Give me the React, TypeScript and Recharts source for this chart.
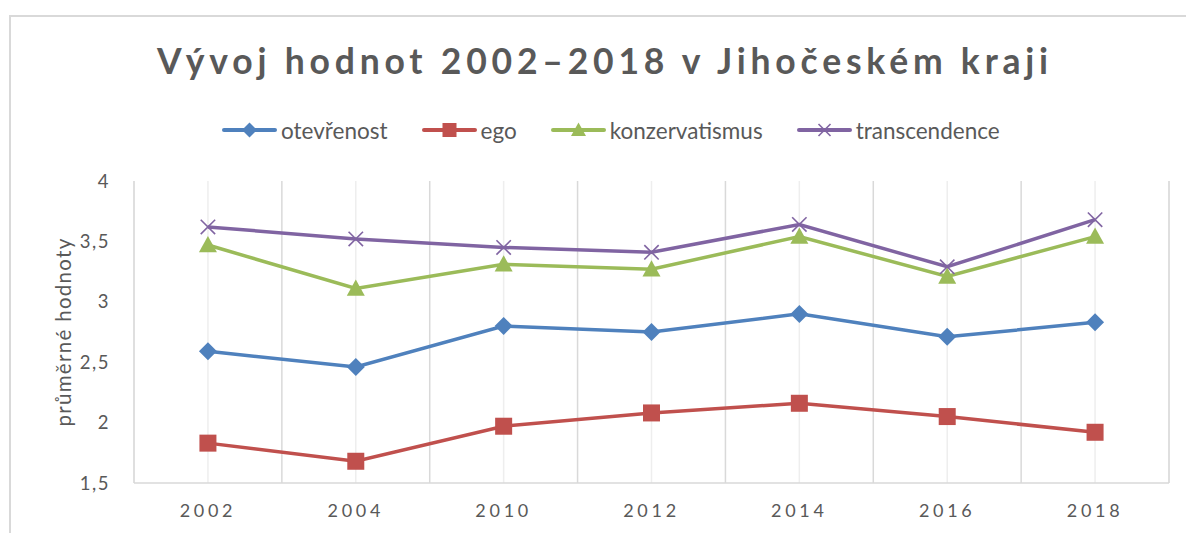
import React from "react";
import {
  CartesianGrid,
  Label,
  Legend,
  Line,
  LineChart,
  ReferenceLine,
  XAxis,
  YAxis,
} from "recharts";

const years = ["2002", "2004", "2010", "2012", "2014", "2016", "2018"];
const otevrenost = [2.59, 2.46, 2.8, 2.75, 2.9, 2.71, 2.83];
const ego = [1.83, 1.68, 1.97, 2.08, 2.16, 2.05, 1.92];
const konzervatismus = [3.47, 3.11, 3.31, 3.27, 3.54, 3.21, 3.54];
const transcendence = [3.62, 3.52, 3.45, 3.41, 3.64, 3.29, 3.68];
const yTicks = [1.5, 2, 2.5, 3, 3.5, 4];

const FONT = "Lato, 'Open Sans', sans-serif";
const INK = "#595959";

const data = years.map((year, i) => ({
  x: i + 0.5,
  year,
  otevrenost: otevrenost[i],
  ego: ego[i],
  konzervatismus: konzervatismus[i],
  transcendence: transcendence[i],
}));

const centers = years.map((_, i) => i + 0.5);
const bounds = [...years.map((_, i) => i), years.length];

type Kind = "diamond" | "square" | "triangle" | "cross";

const series: { key: string; name: string; color: string; kind: Kind }[] = [
  { key: "otevrenost", name: "otevřenost", color: "#4f81bd", kind: "diamond" },
  { key: "ego", name: "ego", color: "#c0504d", kind: "square" },
  { key: "konzervatismus", name: "konzervatismus", color: "#9bbb59", kind: "triangle" },
  { key: "transcendence", name: "transcendence", color: "#8064a2", kind: "cross" },
];

function Marker({ kind, cx, cy, color, s = 9 }: { kind: Kind; cx: number; cy: number; color: string; s?: number }) {
  if (kind === "diamond") {
    return <polygon points={`${cx},${cy - s} ${cx + s},${cy} ${cx},${cy + s} ${cx - s},${cy}`} fill={color} />;
  }
  if (kind === "square") {
    return <rect x={cx - s + 0.5} y={cy - s + 0.5} width={2 * s - 1} height={2 * s - 1} fill={color} />;
  }
  if (kind === "triangle") {
    return <polygon points={`${cx},${cy - s} ${cx + s},${cy + s * 0.8} ${cx - s},${cy + s * 0.8}`} fill={color} />;
  }
  const r = s * 0.8;
  return (
    <g stroke={color} strokeWidth={1.6}>
      <line x1={cx - r} y1={cy - r} x2={cx + r} y2={cy + r} />
      <line x1={cx - r} y1={cy + r} x2={cx + r} y2={cy - r} />
    </g>
  );
}

function LegendBox() {
  return (
    <div style={{ display: "flex", alignItems: "center", paddingLeft: 222, height: 34, fontFamily: FONT, fontSize: 22.5, color: INK }}>
      {series.map((s) => (
        <div key={s.key} style={{ display: "flex", alignItems: "center", marginRight: 34 }}>
          <svg width={55} height={20} style={{ marginRight: 4 }}>
            <line x1={2} y1={10} x2={53} y2={10} stroke={s.color} strokeWidth={4} strokeLinecap="round" />
            <Marker kind={s.kind} cx={27.5} cy={10} color={s.color} s={7.5} />
          </svg>
          <span>{s.name}</span>
        </div>
      ))}
    </div>
  );
}

export default function App() {
  return (
    <div style={{ position: "absolute", left: 0, top: 0, width: 1186, height: 533, overflow: "hidden", background: "#fff" }}>
      <div
        style={{
          position: "absolute",
          left: 9,
          top: 15,
          width: 1200,
          height: 600,
          border: "2px solid #d9d9d9",
        }}
      />
      <div
        style={{
          position: "absolute",
          left: 12,
          width: 1186,
          top: 38,
          textAlign: "center",
          fontFamily: FONT,
          fontWeight: 700,
          fontSize: 35.5,
          letterSpacing: 4.8,
          color: INK,
          lineHeight: "46px",
        }}
      >
        Vývoj hodnot 2002–2018 v Jihočeském kraji
      </div>
      <LineChart
        width={1186}
        height={533}
        data={data}
        margin={{ top: 147, right: 17, left: 9, bottom: 20 }}
        style={{ position: "absolute", left: 0, top: 0 }}
      >
        <CartesianGrid horizontal={false} stroke="#eeeeee" strokeWidth={1.5} />
        {bounds.map((b) => (
          <ReferenceLine key={b} x={b} stroke="#d9d9d9" strokeWidth={1.5} />
        ))}
        <XAxis
          type="number"
          dataKey="x"
          domain={[0, years.length]}
          ticks={centers}
          tickFormatter={(v: number) => years[Math.floor(v)]}
          axisLine={{ stroke: "#d9d9d9", strokeWidth: 1.5 }}
          tickLine={false}
          tickSize={0}
          tickMargin={21}
          height={30}
          tick={{ fill: INK, fontSize: 18, fontFamily: FONT, letterSpacing: 3.7 }}
        />
        <YAxis
          domain={[1.5, 4]}
          ticks={yTicks}
          tickFormatter={(v: number) => String(v).replace(".", ",")}
          axisLine={false}
          tickLine={false}
          tickSize={0}
          tickMargin={24}
          width={125}
          tick={{ fill: INK, fontSize: 18.5, fontFamily: FONT, letterSpacing: 1.5 }}
        >
          <Label
            content={({ viewBox }: any) => {
              const cx = viewBox.x + 54;
              const cy = viewBox.y + viewBox.height / 2;
              return (
                <text
                  x={cx}
                  y={cy}
                  transform={`rotate(-90 ${cx} ${cy})`}
                  textAnchor="middle"
                  dominantBaseline="central"
                  fill={INK}
                  fontSize={20.5}
                  fontFamily={FONT}
                  letterSpacing={1.3}
                >
                  průměrné hodnoty
                </text>
              );
            }}
          />
        </YAxis>
        <Legend verticalAlign="top" content={() => <LegendBox />} wrapperStyle={{ top: 113, left: 0, width: 1186 }} />
        {series.map((s) => (
          <Line
            key={s.key}
            type="linear"
            dataKey={s.key}
            name={s.name}
            stroke={s.color}
            strokeWidth={3.5}
            isAnimationActive={false}
            activeDot={false}
            dot={(p: any) => <Marker key={`${s.key}-${p.index}`} kind={s.kind} cx={p.cx} cy={p.cy} color={s.color} />}
          />
        ))}
      </LineChart>
    </div>
  );
}
